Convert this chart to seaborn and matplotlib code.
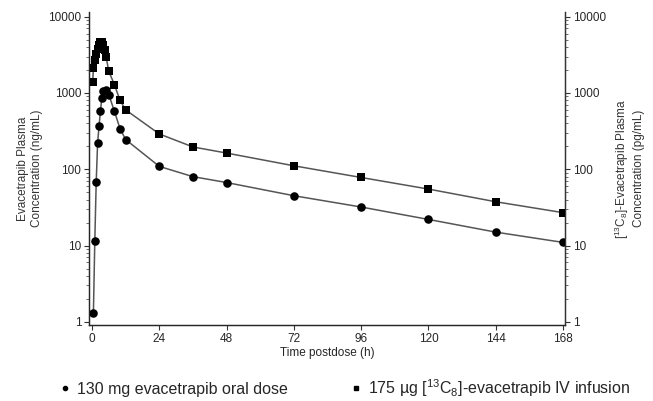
import numpy as np
import matplotlib
matplotlib.use("Agg")
import matplotlib.pyplot as plt
from matplotlib.lines import Line2D
import seaborn as sns

# oral dose (circles, ng/mL)
oral_time = [0.5, 1, 1.5, 2, 2.5, 3, 3.5, 4, 5, 6, 8, 10, 12,
             24, 36, 48, 72, 96, 120, 144, 168]
oral_conc = [1.3, 11.5, 68, 220, 364, 573, 860, 1050, 1100, 950, 573, 340, 245,
             109, 80, 67, 45, 32, 22, 15, 11]

# IV infusion (squares, pg/mL)
iv_time = [0.25, 0.5, 1, 1.5, 2, 2.5, 3, 3.5, 4, 4.5, 5, 6, 8, 10, 12,
           24, 36, 48, 72, 96, 120, 144, 168]
iv_conc = [1400, 2100, 2700, 3200, 3800, 4300, 4600, 4600, 4300, 3600, 3000, 1920,
           1280, 800, 600, 290, 196, 163, 111, 78, 55, 37.5, 27]

x_ticks = [0, 24, 48, 72, 96, 120, 144, 168]
y_ticks = [1, 10, 100, 1000, 10000]

sns.set_style("ticks")
plt.rcParams['font.family'] = ['Liberation Sans', 'DejaVu Sans']
plt.rcParams['mathtext.default'] = 'regular'

fig = plt.figure(figsize=(6.53, 4.01), dpi=100)
ax = fig.add_axes([89 / 653, 1 - 325 / 401, (565 - 89) / 653, (325 - 12) / 401])

line_col = "#555555"
sns.lineplot(x=oral_time, y=oral_conc, ax=ax, color=line_col, linewidth=1.1)
sns.lineplot(x=iv_time, y=iv_conc, ax=ax, color=line_col, linewidth=1.1)
sns.scatterplot(x=oral_time, y=oral_conc, ax=ax, color="black", marker="o",
                s=38, linewidth=0, zorder=3)
sns.scatterplot(x=iv_time, y=iv_conc, ax=ax, color="black", marker="s",
                s=34, linewidth=0, zorder=3)

ax.set_yscale("log")
ylim = (0.91, 11500)
ax.set_ylim(*ylim)
ax.set_xlim(-1.07, 168.7)
ax.set_xticks(x_ticks)
ax.set_xticklabels([str(t) for t in x_ticks])
ax.set_yticks(y_ticks)
ax.set_yticklabels([str(t) for t in y_ticks])
ax.spines["top"].set_visible(False)
ax.spines["right"].set_visible(True)
for sp in ax.spines.values():
    sp.set_color("#333333")
    sp.set_linewidth(1.0)
ax.tick_params(axis="both", which="major", length=3.5, width=0.8,
               labelsize=8.5, color="#333333", pad=2)
ax.tick_params(axis="y", which="minor", length=2, width=0.6, color="#555555")

ax2 = ax.twinx()
ax2.set_yscale("log")
ax2.set_ylim(*ylim)
ax2.set_yticks(y_ticks)
ax2.set_yticklabels([str(t) for t in y_ticks])
ax2.spines["top"].set_visible(False)
ax2.spines["right"].set_color("#333333")
ax2.tick_params(axis="y", which="major", length=3.5, width=0.8,
                labelsize=8.5, color="#333333", pad=2)
ax2.tick_params(axis="y", which="minor", length=2, width=0.6, color="#555555")

ax.set_xlabel("Time postdose (h)", fontsize=8.5, labelpad=2)
ax.set_ylabel("Evacetrapib Plasma\nConcentration (ng/mL)", fontsize=8.5,
              color="#333333", labelpad=4)
ax2.set_ylabel("[$^{13}$C$_8$]-Evacetrapib Plasma\nConcentration (pg/mL)",
               fontsize=8.5, color="#333333", labelpad=5)

handles = [
    Line2D([], [], color="black", marker="o", markersize=3, linestyle="none"),
    Line2D([], [], color="black", marker="s", markersize=3, linestyle="none"),
]
labels = ["130 mg evacetrapib oral dose",
          "175 µg [$^{13}$C$_8$]-evacetrapib IV infusion"]
fig.legend(handles, labels, loc="center", bbox_to_anchor=(0.528, 0.032),
           ncol=2, frameon=False, fontsize=11.5, handletextpad=0.4,
           columnspacing=3.9, handlelength=0.7)

fig.savefig("out.png", dpi=100)
